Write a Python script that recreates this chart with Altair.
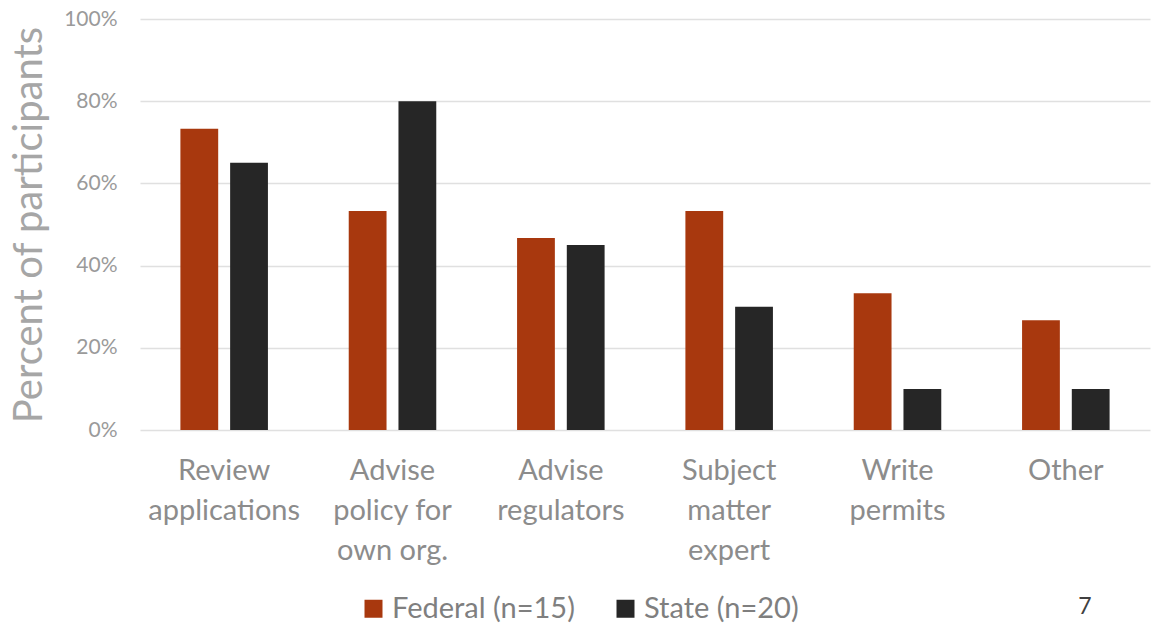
import altair as alt
import pandas as pd

categories = ["Review|applications", "Advise|policy for|own org.", "Advise|regulators",
              "Subject|matter|expert", "Write|permits", "Other"]
series = ["Federal (n=15)", "State (n=20)"]
federal = [73.3, 53.3, 46.7, 53.3, 33.3, 26.7]
state = [65, 80, 45, 30, 10, 10]
colors = ["#A8380E", "#262626"]
page_number = ["7"]

rows = []
for c, f, s in zip(categories, federal, state):
    rows.append({"cat": c, "group": series[0], "val": f / 100})
    rows.append({"cat": c, "group": series[1], "val": s / 100})
df = pd.DataFrame(rows)

FONT = "Lato"

bars = alt.Chart(df).mark_bar().encode(
    x=alt.X("cat:N", sort=categories,
            scale=alt.Scale(paddingInner=0.48, paddingOuter=0.24),
            axis=alt.Axis(title=None, labelAngle=0, labelExpr="split(datum.label, '|')",
                          labelFontSize=29, labelColor="#8c8c8c", labelFont=FONT,
                          labelLineHeight=40, labelPadding=40, ticks=False, domain=False,
                          labelBaseline="middle", labelLimit=400)),
    xOffset=alt.XOffset("group:N", sort=series, scale=alt.Scale(paddingInner=0.24)),
    y=alt.Y("val:Q", scale=alt.Scale(domain=[0, 1], nice=False),
            axis=alt.Axis(title="Percent of participants", format=".0%", values=[0, 0.2, 0.4, 0.6, 0.8, 1.0],
                          labelFontSize=21, labelColor="#9a9a9a", labelFont=FONT, labelPadding=23,
                          titleFontSize=40, titleColor="#a6a6a6", titleFont=FONT, titleFontWeight="normal",
                          titlePadding=14, ticks=False, domain=False,
                          gridColor="#e0e0e0", gridWidth=1.5)),
    color=alt.Color("group:N", sort=series, scale=alt.Scale(domain=series, range=colors),
                    legend=alt.Legend(title=None, orient="none", direction="horizontal",
                                      legendX=219, legendY=575,
                                      symbolType="square", symbolSize=324, symbolStrokeWidth=0,
                                      labelFontSize=29, labelColor="#7f7f7f", labelFont=FONT,
                                      labelLimit=400, columnPadding=36, labelOffset=4)),
)

page = alt.Chart(pd.DataFrame({"t": page_number})).mark_text(
    font=FONT, fontSize=23, color="#404040"
).encode(text="t:N", x=alt.value(945), y=alt.value(588))

chart = alt.layer(bars, page).properties(
    width=1010, height=411,
    autosize=alt.AutoSizeParams(type="none"),
    padding={"left": 140, "top": 19, "right": 1, "bottom": 195},
).configure_view(stroke=None)

chart.save("out.html", embed_options={"renderer": "svg", "actions": False})
